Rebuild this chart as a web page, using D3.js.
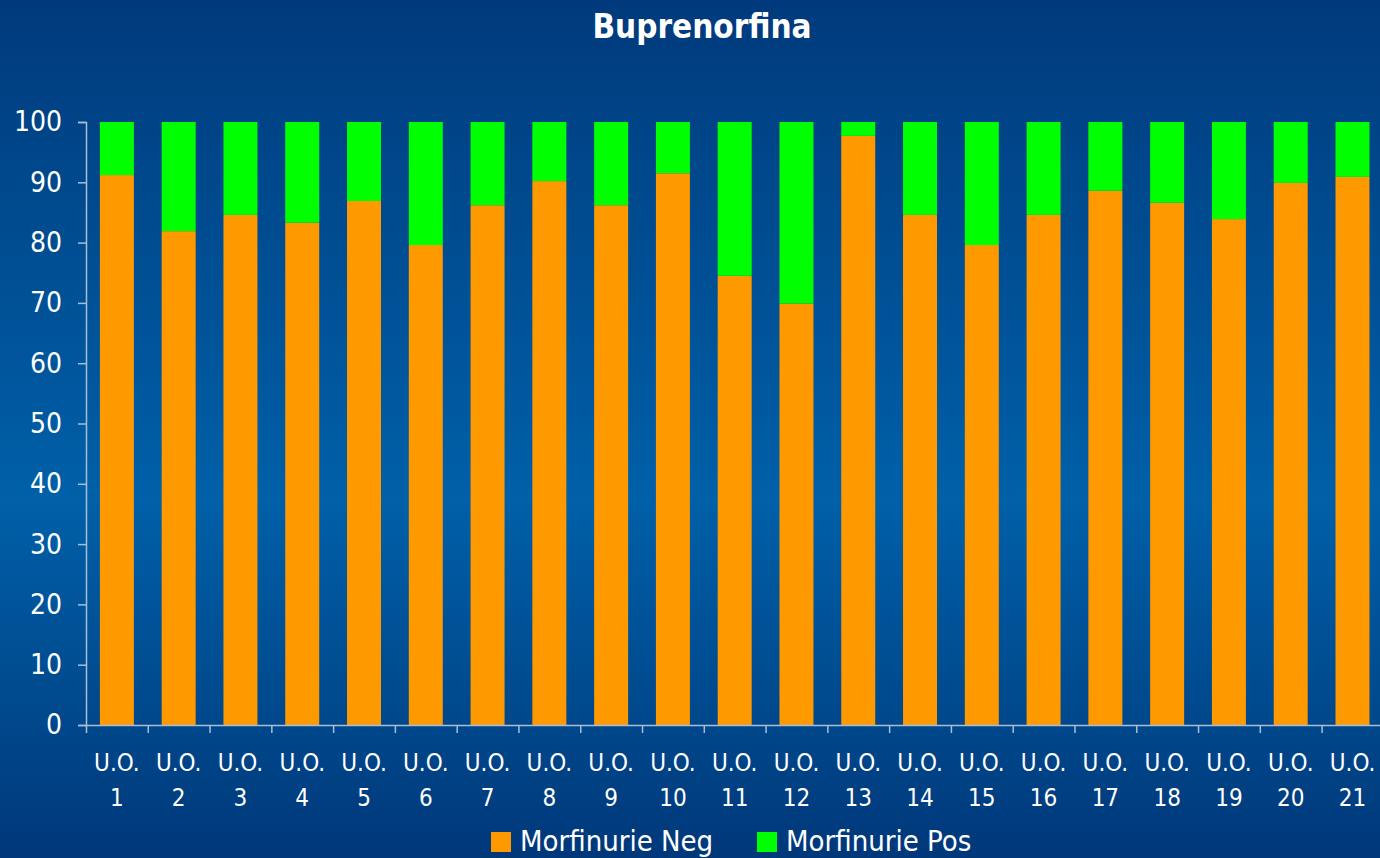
<!DOCTYPE html>
<html>
<head>
<meta charset="utf-8">
<script src="https://cdn.jsdelivr.net/npm/d3@7"></script>
<style>
  html, body { margin: 0; padding: 0; background: #004a8c; }
  svg { display: block; }
</style>
</head>
<body>
<div id="chart"></div>
<script>
const layout = {
    width: 1380,
    height: 858,
    marginLeft: 86,
    step: 61.78,
    top: 122,
    bottom: 725
};

// chart data
const categories = ["1", "2", "3", "4", "5", "6", "7", "8", "9", "10", "11",
    "12", "13", "14", "15", "16", "17", "18", "19", "20", "21"];
const negValues = [91.2, 81.9, 84.6, 83.3, 86.9, 79.6, 86.2, 90.2, 86.2, 91.5, 74.5,
    69.9, 97.7, 84.6, 79.6, 84.6, 88.6, 86.6, 83.9, 89.9, 90.9];
const posValues = negValues.map(v => +(100 - v).toFixed(1));
const yTicks = [0, 10, 20, 30, 40, 50, 60, 70, 80, 90, 100];
const seriesNames = ["Morfinurie Neg", "Morfinurie Pos"];
const seriesColors = ["#ff9900", "#00ff00"];

const font = "Tahoma, 'DejaVu Sans Condensed', 'DejaVu Sans', sans-serif";

let svg = d3.select("#chart").append("svg")
    .attr("width", layout.width)
    .attr("height", layout.height)
    .attr("viewBox", [0, 0, layout.width, layout.height].join(" "));

// background gradient
let grad = svg.append("defs").append("linearGradient")
    .attr("id", "bg")
    .attr("x1", 0).attr("y1", 0).attr("x2", 0).attr("y2", 1);
grad.append("stop").attr("offset", "0%").attr("stop-color", "#003a7c");
grad.append("stop").attr("offset", "58%").attr("stop-color", "#0060a8");
grad.append("stop").attr("offset", "100%").attr("stop-color", "#00387a");
svg.append("rect")
    .attr("width", layout.width)
    .attr("height", layout.height)
    .attr("fill", "url(#bg)");

let xRight = layout.marginLeft + layout.step * categories.length;
let xScale = d3.scaleBand()
    .domain(categories)
    .range([layout.marginLeft, xRight])
    .paddingInner(0.45)
    .paddingOuter(0.225);
let xEdges = d3.scaleLinear()
    .domain([0, categories.length])
    .range([layout.marginLeft, xRight]);
let yScale = d3.scaleLinear()
    .domain([0, 100])
    .range([layout.bottom, layout.top]);

// stacked bars
let rows = categories.map((c, i) => ({ cat: c, neg: negValues[i], pos: posValues[i] }));
let stack = d3.stack().keys(["neg", "pos"])(rows);
stack.forEach((layer, li) => {
    svg.append("g")
        .selectAll("rect")
        .data(layer)
        .join("rect")
        .attr("x", d => xScale(d.data.cat))
        .attr("width", xScale.bandwidth())
        .attr("y", d => yScale(d[1]))
        .attr("height", d => yScale(d[0]) - yScale(d[1]))
        .attr("fill", seriesColors[li]);
});

// y axis
let yAxis = svg.append("g")
    .attr("transform", `translate(${layout.marginLeft},0)`)
    .call(d3.axisLeft(yScale).tickValues(yTicks).tickSize(8).tickPadding(16));
yAxis.selectAll("text")
    .attr("fill", "white")
    .attr("font-size", 28)
    .attr("font-family", font);
yAxis.selectAll("line, .domain").attr("stroke", "#a8bed6").attr("stroke-width", 1.5);

// x axis (tick marks between categories)
let xAxis = svg.append("g")
    .attr("transform", `translate(0,${layout.bottom})`)
    .call(d3.axisBottom(xEdges).tickValues(d3.range(0, categories.length)).tickSize(8).tickFormat(""));
xAxis.select(".domain").attr("d", `M${layout.marginLeft},0.5H${layout.width}`);
xAxis.selectAll("line, .domain").attr("stroke", "#a8bed6").attr("stroke-width", 1.5);

// category labels
let labels = svg.append("g")
    .selectAll("text")
    .data(categories)
    .join("text")
    .attr("transform", d => `translate(${xScale(d) + xScale.bandwidth() / 2},0)`)
    .attr("text-anchor", "middle")
    .attr("fill", "white")
    .attr("font-size", 24)
    .attr("font-family", font);
labels.append("tspan").attr("x", 0).attr("y", 771).text("U.O.");
labels.append("tspan").attr("x", 0).attr("y", 806).text(d => d);

// title
svg.append("text")
    .attr("x", 702)
    .attr("y", 38)
    .attr("text-anchor", "middle")
    .attr("fill", "white")
    .attr("font-size", 33)
    .attr("font-weight", "bold")
    .attr("font-family", font)
    .text("Buprenorfina");

// legend
const legendX = [491, 757];
seriesNames.forEach((name, i) => {
    svg.append("rect")
        .attr("x", legendX[i])
        .attr("y", 832)
        .attr("width", 20)
        .attr("height", 20)
        .attr("fill", seriesColors[i]);
    svg.append("text")
        .attr("x", legendX[i] + 29)
        .attr("y", 851)
        .attr("fill", "white")
        .attr("font-size", 29)
        .attr("font-family", font)
        .text(name);
});
</script>
</body>
</html>
